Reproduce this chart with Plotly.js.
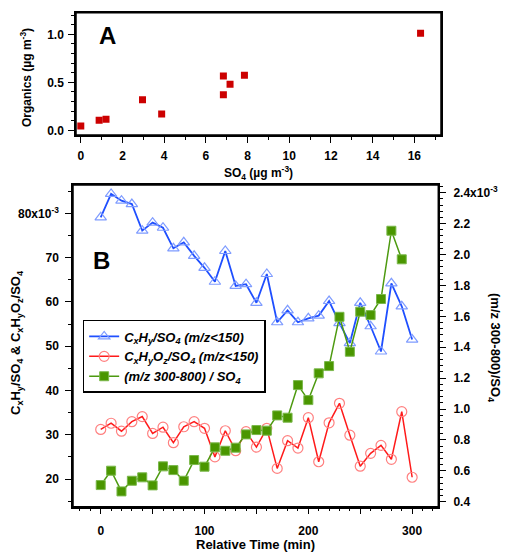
<!DOCTYPE html>
<html>
<head>
<meta charset="utf-8">
<script src="https://cdn.plot.ly/plotly-3.0.1.min.js"></script>
<style>html,body{margin:0;padding:0;background:#fff;}#chart{width:505px;height:554px;}</style>
</head>
<body>
<div id="chart"></div>
<script>
// Panel A: organics vs sulfate
const so4 = [0.0, 0.88, 1.21, 2.96, 3.88, 6.84, 6.84, 7.16, 7.85, 16.3];
const organics = [0.045, 0.104, 0.114, 0.319, 0.17, 0.371, 0.566, 0.479, 0.573, 1.01];

// Panel B: time series (values in x10^-3)
const timeMin = [0,10,20,30,40,50,60,70,80,90,100,110,120,130,140,150,160,170,180,190,200,210,220,230,240,250,260,270,280,290,300];
const cxhy = [79.1,84.4,82.85,82.1,76.1,77.9,76.75,72.1,73.45,70.4,67.7,64.55,71.5,63.6,64.0,59.8,66.3,55.4,58.1,55.4,56.3,56.9,60.2,55.2,50.7,59.8,54.5,48.8,64.2,59.0,51.5];
const cxhyoz = [31.2,32.6,30.8,32.95,34.1,30.3,31.7,28.2,31.8,32.95,31.45,25.0,30.9,26.4,30.7,27.2,31.45,22.4,28.65,27.0,33.85,23.9,32.7,37.1,29.9,22.9,25.8,27.6,24.45,35.2,20.4];
const timeGreen = [0,10,20,30,40,50,60,70,80,90,100,110,120,130,140,150,160,170,180,190,200,210,220,230,240,250,260,270,280,290];
const hiMass = [0.508,0.601,0.467,0.536,0.558,0.506,0.629,0.605,0.536,0.670,0.627,0.752,0.730,0.750,0.836,0.864,0.860,0.959,0.944,1.155,1.058,1.231,1.278,1.597,1.371,1.630,1.608,1.712,2.154,1.969];

const leftTicks = [20,30,40,50,60,70,80];
const leftTickText = ['20','30','40','50','60','70','80x10<sup>-3</sup>'];
const rightTicks = [0.4,0.6,0.8,1.0,1.2,1.4,1.6,1.8,2.0,2.2,2.4];
const rightTickText = ['0.4','0.6','0.8','1.0','1.2','1.4','1.6','1.8','2.0','2.2','2.4x10<sup>-3</sup>'];
const timeTicks = [0,50,100,150,200,250,300];
const timeTickText = ['0','','100','','200','','300'];

const FONT = 'Liberation Sans, Arial, sans-serif';

const traces = [
  {x: so4, y: organics, xaxis: 'x', yaxis: 'y', mode: 'markers', type: 'scatter', showlegend: false,
   marker: {symbol: 'square', size: 7, color: '#cc0000', line: {width: 0}}},
  {x: timeMin, y: cxhy, xaxis: 'x2', yaxis: 'y2', mode: 'lines+markers', type: 'scatter',
   name: 'C<sub>x</sub>H<sub>y</sub>/SO<sub>4</sub> (m/z&lt;150)',
   line: {color: '#1f4fff', width: 1.8},
   marker: {symbol: 'triangle-up-open', size: 10, color: '#7f9cff', line: {width: 1.2, color: '#7f9cff'}}},
  {x: timeMin, y: cxhyoz, xaxis: 'x2', yaxis: 'y2', mode: 'lines+markers', type: 'scatter',
   name: 'C<sub>x</sub>H<sub>y</sub>O<sub>z</sub>/SO<sub>4</sub> (m/z&lt;150)',
   line: {color: '#ff1a1a', width: 1.5},
   marker: {symbol: 'circle-open', size: 10, color: '#ff8080', line: {width: 1.2, color: '#ff8080'}}},
  {x: timeGreen, y: hiMass, xaxis: 'x2', yaxis: 'y3', mode: 'lines+markers', type: 'scatter',
   name: '(m/z 300-800) / SO<sub>4</sub>',
   line: {color: '#4d9a10', width: 1.5},
   marker: {symbol: 'square', size: 9, color: '#4a9600', line: {width: 1, color: '#7ab84a'}}}
];

function ax(extra) {
  return Object.assign({showline: true, linecolor: '#000000', linewidth: 1.5, ticks: 'outside', ticklen: 6, tickwidth: 1,
    tickcolor: '#000000', showgrid: false, zeroline: false,
    tickfont: {family: FONT, size: 12, color: '#000000', weight: 'bold'}}, extra);
}

function ann(text, x, y, size, angle) {
  return {text: text, xref: 'paper', yref: 'paper', x: x / 505, y: 1 - y / 554, xanchor: 'center', yanchor: 'middle',
    textangle: angle || 0, showarrow: false, font: {family: FONT, size: size, weight: 'bold', color: '#000'}};
}

function box(x0, x1, yTop, yBot) {
  return {type: 'rect', xref: 'paper', yref: 'paper', x0: x0 / 505, x1: x1 / 505, y0: 1 - yBot / 554, y1: 1 - yTop / 554,
    line: {color: '#000000', width: 1.5}, layer: 'above'};
}

const layout = {
  width: 505, height: 554,
  margin: {l: 0, r: 0, t: 0, b: 0},
  paper_bgcolor: '#ffffff', plot_bgcolor: '#ffffff',
  font: {family: FONT, color: '#000'},
  xaxis: ax({domain: [76 / 505, 441 / 505], anchor: 'y', range: [-0.23, 17.28], mirror: true,
    dtick: 2, tick0: 0, ticklabelstandoff: 3, minor: {dtick: 1, ticklen: 3, ticks: 'outside', tickcolor: '#000000'}}),
  yaxis: ax({domain: [1 - 135 / 554, 1 - 12.7 / 554], anchor: 'x', range: [-0.049, 1.225], mirror: true,
    dtick: 0.5, tick0: 0, tickformat: '.1f', ticklabelstandoff: 2,
    minor: {dtick: 0.1, ticklen: 3, ticks: 'outside', tickcolor: '#000000'}}),
  xaxis2: ax({domain: [73 / 505, 438.3 / 505], anchor: 'y2', range: [-26.7, 325.2], mirror: true,
    tickmode: 'array', tickvals: timeTicks, ticktext: timeTickText, ticklabelstandoff: 6,
    minor: {dtick: 10, tick0: 0, ticklen: 3, ticks: 'outside', tickcolor: '#000000'}}),
  yaxis2: ax({domain: [1 - 506.7 / 554, 1 - 185 / 554], anchor: 'x2', range: [13.75, 86.4], mirror: true,
    tickmode: 'array', tickvals: leftTicks, ticktext: leftTickText, ticklabelstandoff: 4,
    minor: {dtick: 5, tick0: 0, ticklen: 3, ticks: 'outside', tickcolor: '#000000'}}),
  yaxis3: ax({overlaying: 'y2', side: 'right', anchor: 'x2', range: [0.368, 2.45],
    tickmode: 'array', tickvals: rightTicks, ticktext: rightTickText, ticklabelstandoff: 5,
    minor: {dtick: 0.04, tick0: 0, ticklen: 3, ticks: 'outside', tickcolor: '#000000'}}),
  legend: {x: 0.1637, y: 0.4224, xanchor: 'left', yanchor: 'top', bgcolor: '#ffffff', bordercolor: '#000000', borderwidth: 1.5,
    font: {family: FONT, size: 13, color: '#000', weight: 'bold', style: 'italic'}, tracegroupgap: 0},
  shapes: [box(76, 441, 12.7, 135), box(73, 438.3, 185, 506.7)],
  annotations: [
    ann('A', 107, 35, 24),
    ann('B', 101, 260, 24),
    ann('Organics (µg m<sup>-3</sup>)', 26, 78, 12, -90),
    ann('SO<sub>4</sub> (µg m<sup>-3</sup>)', 258.5, 173, 12),
    ann('C<sub>x</sub>H<sub>y</sub>/SO<sub>4</sub> &amp; C<sub>x</sub>H<sub>y</sub>O<sub>z</sub>/SO<sub>4</sub>', 16, 343, 13, -90),
    ann('(m/z 300-800)/SO<sub>4</sub>', 495, 348, 13, 90),
    ann('Relative Time (min)', 255.7, 544, 13)
  ]
};

Plotly.newPlot('chart', traces, layout, {displayModeBar: false});
</script>
</body>
</html>
